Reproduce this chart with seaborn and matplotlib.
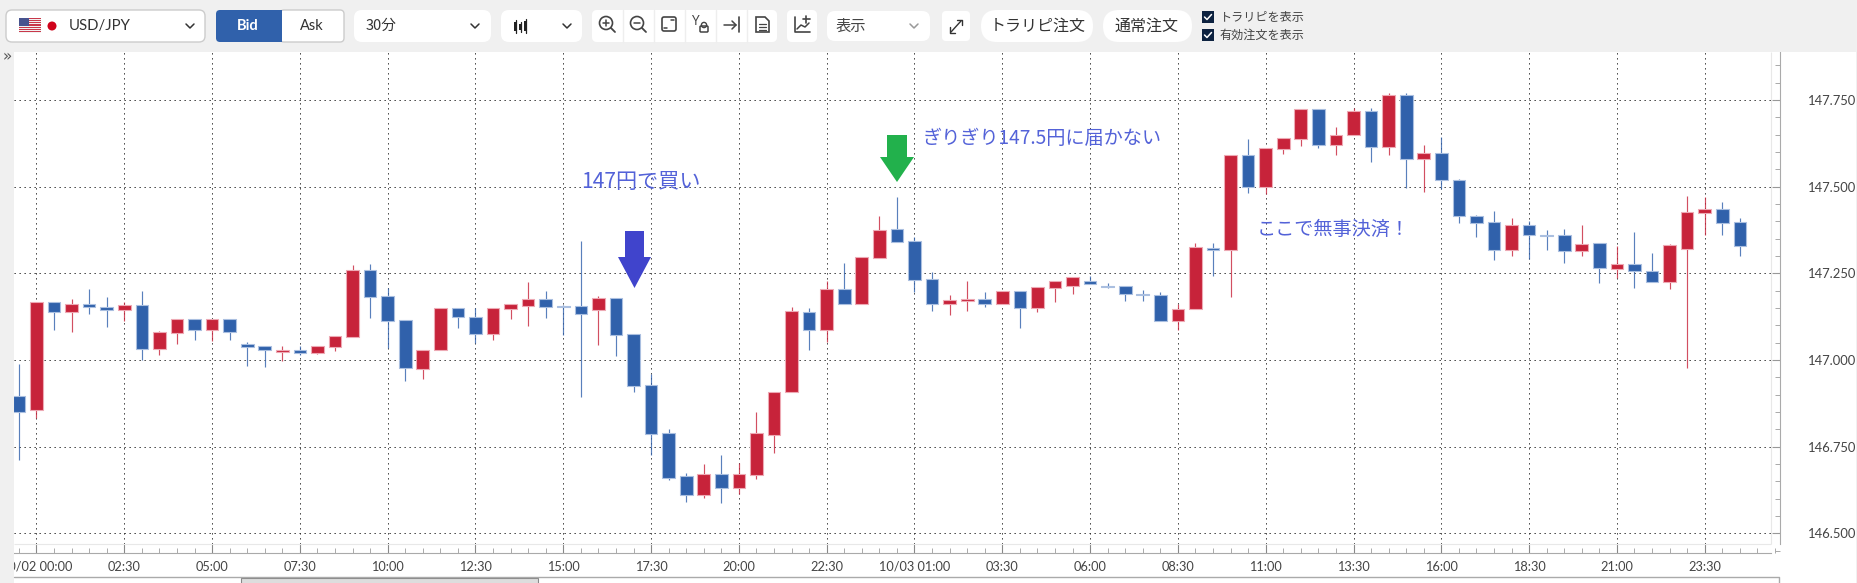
import numpy as np
import pandas as pd
import matplotlib
matplotlib.use("Agg")
import matplotlib.pyplot as plt
from matplotlib.patches import Circle, FancyBboxPatch, Polygon, Rectangle
from matplotlib.ticker import MultipleLocator
import seaborn as sns

# USD/JPY 30 minute candles, index 0 = 10/02 00:00
opens = [146.897, 146.856, 147.166, 147.139, 147.161, 147.152, 147.143, 147.159, 147.032, 147.079,
         147.117, 147.086, 147.119, 147.045, 147.039, 147.024, 147.028, 147.019, 147.037, 147.067,
         147.259, 147.184, 147.115, 146.975, 147.028, 147.150, 147.125, 147.074, 147.148, 147.157,
         147.177, 147.156, 147.155, 147.143, 147.178, 147.074, 146.927, 146.790, 146.664, 146.611,
         146.670, 146.632, 146.668, 146.785, 146.908, 147.139, 147.085, 147.204, 147.160, 147.295,
         147.378, 147.343, 147.233, 147.160, 147.171, 147.176, 147.161, 147.200, 147.150, 147.207,
         147.213, 147.227, 147.212, 147.212, 147.191, 147.187, 147.111, 147.146, 147.323, 147.317,
         147.591, 147.500, 147.608, 147.638, 147.725, 147.620, 147.648, 147.717, 147.614, 147.764,
         147.579, 147.596, 147.520, 147.416, 147.398, 147.318, 147.389, 147.361, 147.360, 147.313,
         147.336, 147.263, 147.277, 147.258, 147.226, 147.321, 147.425, 147.436, 147.398]
highs = [146.988, 147.166, 147.166, 147.177, 147.204, 147.181, 147.166, 147.199, 147.083, 147.117,
         147.117, 147.119, 147.119, 147.051, 147.039, 147.039, 147.039, 147.040, 147.069, 147.274,
         147.277, 147.209, 147.115, 147.030, 147.150, 147.150, 147.149, 147.150, 147.160, 147.224,
         147.199, 147.159, 147.343, 147.185, 147.178, 147.074, 146.959, 146.800, 146.674, 146.699,
         146.725, 146.702, 146.849, 146.909, 147.152, 147.149, 147.228, 147.281, 147.298, 147.415,
         147.469, 147.356, 147.255, 147.187, 147.228, 147.196, 147.200, 147.200, 147.210, 147.228,
         147.239, 147.243, 147.221, 147.212, 147.201, 147.196, 147.161, 147.337, 147.337, 147.591,
         147.637, 147.610, 147.640, 147.725, 147.725, 147.672, 147.726, 147.726, 147.769, 147.769,
         147.619, 147.642, 147.522, 147.417, 147.430, 147.409, 147.402, 147.375, 147.379, 147.389,
         147.336, 147.329, 147.369, 147.309, 147.334, 147.472, 147.469, 147.455, 147.410]
lows = [146.711, 146.832, 147.085, 147.081, 147.133, 147.096, 147.112, 146.999, 147.015, 147.045,
        147.059, 147.055, 147.059, 146.984, 146.980, 146.996, 147.014, 147.017, 147.027, 147.067,
        147.122, 147.035, 146.940, 146.946, 147.028, 147.093, 147.048, 147.059, 147.119, 147.098,
        147.122, 147.072, 146.892, 147.043, 147.012, 146.908, 146.726, 146.654, 146.590, 146.603,
        146.588, 146.614, 146.656, 146.733, 146.908, 147.029, 147.051, 147.160, 147.160, 147.295,
        147.339, 147.196, 147.140, 147.130, 147.142, 147.154, 147.161, 147.092, 147.139, 147.168,
        147.191, 147.219, 147.208, 147.171, 147.171, 147.111, 147.085, 147.146, 147.243, 147.182,
        147.482, 147.479, 147.593, 147.618, 147.612, 147.591, 147.648, 147.572, 147.592, 147.495,
        147.483, 147.494, 147.396, 147.356, 147.288, 147.301, 147.290, 147.317, 147.281, 147.301,
        147.221, 147.237, 147.208, 147.226, 147.205, 146.978, 147.359, 147.361, 147.301]
closes = [146.851, 147.166, 147.139, 147.161, 147.152, 147.143, 147.159, 147.032, 147.081, 147.117,
          147.086, 147.119, 147.081, 147.037, 147.028, 147.029, 147.019, 147.040, 147.069, 147.260,
          147.183, 147.113, 146.977, 147.030, 147.150, 147.123, 147.074, 147.150, 147.160, 147.175,
          147.154, 147.152, 147.134, 147.178, 147.071, 146.925, 146.787, 146.661, 146.611, 146.670,
          146.632, 146.672, 146.788, 146.909, 147.142, 147.085, 147.204, 147.160, 147.298, 147.375,
          147.339, 147.230, 147.160, 147.174, 147.175, 147.161, 147.200, 147.149, 147.210, 147.228,
          147.239, 147.219, 147.210, 147.189, 147.187, 147.111, 147.147, 147.325, 147.318, 147.591,
          147.500, 147.610, 147.640, 147.725, 147.619, 147.649, 147.717, 147.614, 147.764, 147.579,
          147.596, 147.518, 147.415, 147.396, 147.318, 147.390, 147.360, 147.358, 147.313, 147.334,
          147.266, 147.278, 147.256, 147.226, 147.331, 147.427, 147.435, 147.395, 147.328]
first_index = -1

x_tick_pos = [0, 5, 10, 15, 20, 25, 30, 35, 40, 45, 50, 55, 60, 65, 70, 75, 80, 85, 90, 95]
x_tick_labels = ["10/02 00:00", "02:30", "05:00", "07:30", "10:00", "12:30", "15:00", "17:30",
                 "20:00", "22:30", "10/03 01:00", "03:30", "06:00", "08:30", "11:00", "13:30",
                 "16:00", "18:30", "21:00", "23:30"]
y_tick_pos = [146.5, 146.75, 147.0, 147.25, 147.5, 147.75]

BLUE = "#3061ab"
RED = "#c7233a"
BG = "#f0f0f0"
NOTE = "#5362d8"
JP = ["Noto Sans CJK JP", "DejaVu Sans"]

sns.set_style("white")
plt.rcParams["font.family"] = ["Lato", "DejaVu Sans"]

W, H = 1858, 583
fig = plt.figure(figsize=(W / 100, H / 100), dpi=100, facecolor="white")
ax = fig.add_axes([14 / W, (H - 553) / H, (1780 - 14) / W, (553 - 52) / H])

df = pd.DataFrame({"o": opens, "h": highs, "l": lows, "c": closes})
df["idx"] = np.arange(len(df)) + first_index
df["up"] = df["c"] >= df["o"]
df["bottom"] = df[["o", "c"]].min(axis=1)
df["height"] = (df["c"] - df["o"]).abs()

# bodies, one barplot per colour because of the bottom array
for up, col, edge in [(True, RED, "#eda9b4"), (False, BLUE, "#aabfe0")]:
    part = df[df["up"] == up]
    sns.barplot(data=part, x="idx", y="height", bottom=part["bottom"].values, native_scale=True,
                color=col, saturation=1, width=0.72, errorbar=None, edgecolor=edge,
                linewidth=0.8, zorder=3, ax=ax)
    ax.vlines(part["idx"], part["l"], part["h"], color=col, lw=0.85, alpha=0.8, zorder=2)

ax.set_xlim(-1.281, 99.288)
ax.set_ylim(146.4433, 147.8882)
ax.set_xlabel("")
ax.set_ylabel("")

# dotted grid, stops short of the axis strips
dots = (0, (1.3, 3.7))
ax.vlines(x_tick_pos, 146.4693, 147.8882, color="#2a2a2a", lw=0.72, linestyles=[dots], zorder=1)
ax.hlines(y_tick_pos, -1.281, 98.77, color="#2a2a2a", lw=0.72, linestyles=[dots], zorder=1)
ax.hlines(146.4693, -1.281, 98.77, color="#e8e8e8", lw=0.8, zorder=1)
ax.vlines(98.77, 146.4693, 147.8882, color="#e8e8e8", lw=0.8, zorder=1)

ax.yaxis.tick_right()
ax.set_xticks(x_tick_pos)
ax.set_xticklabels(x_tick_labels)
ax.set_yticks(y_tick_pos)
ax.set_yticklabels([f"{v:.3f}" for v in y_tick_pos])
ax.xaxis.set_minor_locator(MultipleLocator(1))
ax.yaxis.set_minor_locator(MultipleLocator(0.05))
ax.tick_params(axis="x", which="major", direction="in", length=6.5, width=0.8, color="#888888",
               labelsize=9.2, labelcolor="#444444", pad=5.5, bottom=True)
ax.tick_params(axis="x", which="minor", direction="in", length=3.4, width=0.7, color="#aaaaaa", bottom=True)
ax.tick_params(axis="y", which="major", direction="in", length=6, width=0.8, color="#999999",
               labelsize=9.4, labelcolor="#444444", pad=20, right=True)
ax.tick_params(axis="y", which="minor", direction="in", length=3.4, width=0.7, color="#aaaaaa", right=True)
for side in ["top", "left"]:
    ax.spines[side].set_visible(False)
ax.spines["bottom"].set_color("#aaaaaa")
ax.spines["bottom"].set_bounds(-1.281, 98.77)
ax.spines["right"].set_color("#aaaaaa")
ax.spines["right"].set_bounds(146.4693, 147.8882)

# overlay in pixels for the app chrome and the hand drawn notes
ov = fig.add_axes([0, 0, 1, 1], zorder=5)
ov.set_xlim(0, W)
ov.set_ylim(H, 0)
ov.axis("off")
ov.patch.set_alpha(0)


def box(x0, y0, x1, y1, fc="white", ec="none", r=6, lw=1.0):
    ov.add_patch(FancyBboxPatch((x0 + r, y0 + r), x1 - x0 - 2 * r, y1 - y0 - 2 * r,
                                boxstyle=f"round,pad={r},rounding_size={r}", fc=fc, ec=ec, lw=lw))


def chevron(x, y, col="#333333"):
    ov.plot([x - 4, x, x + 4], [y - 2, y + 2, y - 2], color=col, lw=1.1)


def label(x, y, s, size=10, col="#333333", ha="left", weight="normal", fam=JP):
    ov.text(x, y, s, fontsize=size, color=col, ha=ha, va="center", weight=weight, family=fam)


def magnifier(x, y, plus):
    ov.add_patch(Circle((x - 1, y - 1), 6.5, fc="none", ec="#444444", lw=1.2))
    ov.plot([x + 4, x + 8], [y + 4, y + 8], color="#444444", lw=1.3)
    ov.plot([x - 4, x + 2], [y - 1, y - 1], color="#444444", lw=1.1)
    if plus:
        ov.plot([x - 1, x - 1], [y - 4, y + 2], color="#444444", lw=1.1)


# page background pieces
ov.add_patch(Rectangle((0, 0), W, 52, fc=BG, ec="none"))
ov.add_patch(Rectangle((0, 0), 14, H, fc=BG, ec="none"))
ov.add_patch(Rectangle((1856, 0), 2, H, fc=BG, ec="none"))
ov.text(7, 57, "»", fontsize=11, color="#555555", ha="center", va="center", family="DejaVu Sans")

# scrollbar
ov.plot([14, 1779, 1779], [576.5, 576.5, H], color="#aaaaaa", lw=1)
ov.add_patch(Rectangle((241, 578), 297, 6, fc="#dddddd", ec="#888888", lw=0.8))

# symbol selector
box(6, 10, 205, 42, ec="#cccccc")
for s in range(7):
    ov.add_patch(Rectangle((19, 18 + s * 15 / 7), 22, 15 / 14, fc="#c8384a", ec="none"))
    ov.add_patch(Rectangle((19, 18 + s * 15 / 7 + 15 / 14), 22, 15 / 14, fc="#f2f2f2", ec="none"))
ov.add_patch(Rectangle((19, 18), 10, 8, fc="#48548f", ec="none"))
ov.add_patch(Circle((52, 26), 4.5, fc="#d0021b", ec="none"))
label(69, 26, "USD/JPY", size=10.7, fam=["Lato", "DejaVu Sans"])
chevron(190, 26)

# bid / ask
box(280, 10, 344, 42, ec="#cccccc", r=4)
box(216, 10, 282, 42, fc=BLUE, r=4)
ov.add_patch(Rectangle((272, 10), 10, 32, fc=BLUE, ec="none"))
label(248, 26, "Bid", size=10.5, col="white", ha="center", weight="bold", fam=["Lato", "DejaVu Sans"])
label(312, 26, "Ask", size=10.5, ha="center", fam=["Lato", "DejaVu Sans"])

# timeframe and chart type
box(354, 10, 491, 42, r=8)
label(366, 26, "30分", size=10.5)
chevron(475, 26)
box(501, 10, 582, 42, r=8)
for cx, t, b in [(516, 22, 31), (521, 24, 30), (526, 21, 31)]:
    ov.plot([cx, cx], [t - 2, b + 2], color="#222222", lw=0.9)
    ov.add_patch(Rectangle((cx - 1.5, t), 3, b - t, fc="#222222", ec="none"))
chevron(567, 26)

# icon group
box(592, 10, 777, 42, r=5)
for sx in [623, 654, 685, 716, 747]:
    ov.plot([sx, sx], [10, 42], color="#eeeeee", lw=1)
magnifier(607, 24, True)
magnifier(638, 24, False)
box(662, 17, 676, 31, fc="none", ec="#444444", r=2, lw=1.2)
ov.plot([671, 674], [20, 20], color="#444444", lw=1.1)
ov.plot([664, 667], [28, 28], color="#444444", lw=1.1)
label(695, 21, "Y", size=9, col="#444444", ha="center", fam=["Lato", "DejaVu Sans"])
box(700, 26, 708, 32, fc="none", ec="#444444", r=1, lw=1.1)
ov.add_patch(Circle((704, 25), 2.6, fc="none", ec="#444444", lw=1))
ov.plot([724, 736], [25, 25], color="#444444", lw=1.1)
ov.plot([732, 736, 732], [21, 25, 29], color="#444444", lw=1.1)
ov.plot([739, 739], [17, 32], color="#444444", lw=1.2)
ov.add_patch(Polygon([(756, 17), (765, 17), (769, 21), (769, 32), (756, 32)], fc="none", ec="#444444", lw=1.2))
for ly in [24, 27, 30]:
    ov.plot([759, 766], [ly, ly], color="#444444", lw=0.9)

# indicator button
box(787, 10, 817, 42, r=5)
ov.plot([795, 795, 810], [17, 32, 32], color="#444444", lw=1.2)
ov.plot([797, 801, 805, 809], [29, 25, 27, 23], color="#444444", lw=1.1)
ov.plot([803, 810], [19, 19], color="#444444", lw=1.2)
ov.plot([806.5, 806.5], [15.5, 22.5], color="#444444", lw=1.2)

# display selector
box(827, 11, 930, 41, r=8)
label(836, 26, "表示", size=11, col="#444444")
chevron(914, 26, "#999999")

# expand button
box(942, 11, 970, 41, r=4)
ov.plot([951, 961], [32, 21], color="#333333", lw=1.0)
ov.plot([957, 962, 962], [20, 20, 25], color="#333333", lw=1.0)
ov.plot([950, 950, 955], [27, 33, 33], color="#333333", lw=1.0)

# order buttons
box(981, 10, 1093, 42, r=16)
label(1038, 26, "トラリピ注文", size=11.5, ha="center")
box(1103, 10, 1192, 42, r=16)
label(1147, 26, "通常注文", size=11.5, ha="center")

# check boxes
for cy, txt in [(17, "トラリピを表示"), (35, "有効注文を表示")]:
    ov.add_patch(Rectangle((1202, cy - 6), 12, 12, fc="#0d2240", ec="none"))
    ov.plot([1204.5, 1207, 1211.5], [cy, cy + 2.5, cy - 2.5], color="white", lw=1.1)
    label(1220, cy, txt, size=8.7, col="#444444")

# hand drawn notes
ov.add_patch(Polygon([(625, 231), (644, 231), (644, 257), (651, 257), (634.5, 288), (618, 257), (625, 257)],
                     fc="#4044cc", ec="none"))
ov.add_patch(Polygon([(887, 135), (907, 135), (907, 157), (914, 157), (897, 182), (880, 157), (887, 157)],
                     fc="#22b14c", ec="none"))
label(581, 182, "147円で買い", size=15.2, col=NOTE)
label(923, 139, "ぎりぎり147.5円に届かない", size=13.8, col=NOTE)
label(1257, 229, "ここで無事決済！", size=13.8, col=NOTE)

fig.savefig("out.png", dpi=100)
